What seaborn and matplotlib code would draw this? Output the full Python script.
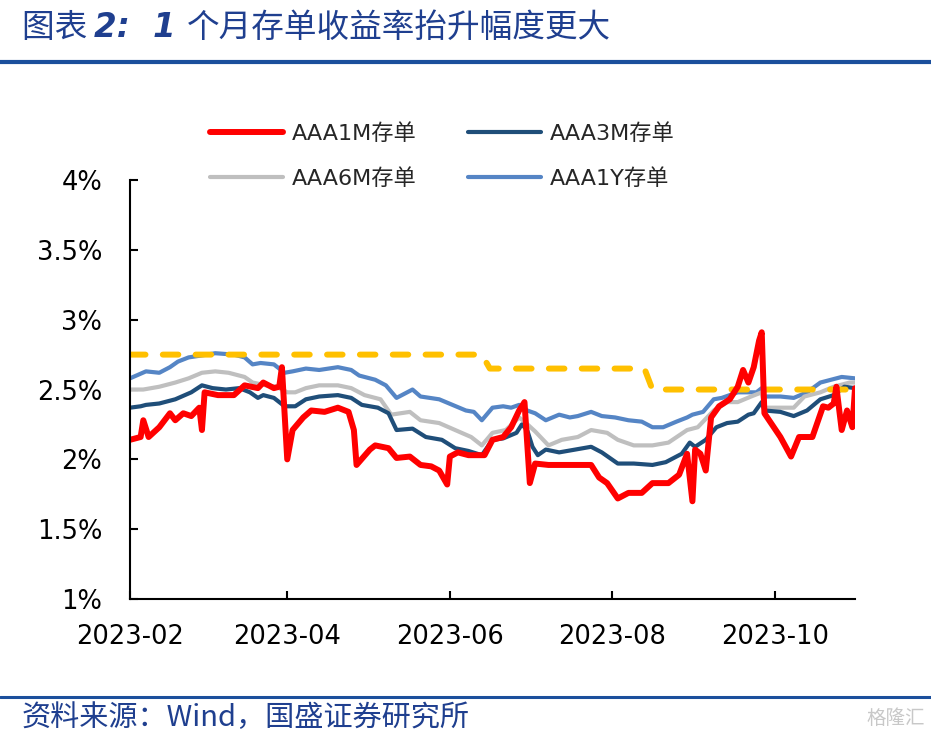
import pandas as pd
import seaborn as sns
import matplotlib.pyplot as plt
import matplotlib.dates as mdates
from matplotlib.ticker import FuncFormatter, MultipleLocator

# ---- data ----
m1_dates = ["2023-02-01", "2023-02-05", "2023-02-06", "2023-02-08", "2023-02-12", "2023-02-16",
            "2023-02-18", "2023-02-21", "2023-02-24", "2023-02-27", "2023-02-28", "2023-03-01",
            "2023-03-06", "2023-03-12", "2023-03-16", "2023-03-21", "2023-03-23", "2023-03-27",
            "2023-03-29", "2023-03-30", "2023-04-01", "2023-04-03", "2023-04-07", "2023-04-10",
            "2023-04-15", "2023-04-20", "2023-04-24", "2023-04-26", "2023-04-27", "2023-05-02",
            "2023-05-04", "2023-05-09", "2023-05-12", "2023-05-17", "2023-05-21", "2023-05-25",
            "2023-05-28", "2023-05-31", "2023-06-01", "2023-06-04", "2023-06-08", "2023-06-14",
            "2023-06-17", "2023-06-21", "2023-06-24", "2023-06-27", "2023-06-29", "2023-07-01",
            "2023-07-03", "2023-07-08", "2023-07-14", "2023-07-19", "2023-07-24", "2023-07-27",
            "2023-07-30", "2023-08-03", "2023-08-07", "2023-08-12", "2023-08-16", "2023-08-22",
            "2023-08-26", "2023-08-29", "2023-08-31", "2023-09-01", "2023-09-03", "2023-09-05",
            "2023-09-07", "2023-09-10", "2023-09-14", "2023-09-17", "2023-09-19", "2023-09-21",
            "2023-09-23", "2023-09-25", "2023-09-26", "2023-09-27", "2023-10-03", "2023-10-07",
            "2023-10-10", "2023-10-15", "2023-10-19", "2023-10-21", "2023-10-23", "2023-10-24",
            "2023-10-26", "2023-10-28", "2023-10-30", "2023-10-31"]
m1_vals = [2.14, 2.16, 2.28, 2.16, 2.23, 2.33,
           2.28, 2.33, 2.31, 2.37, 2.21, 2.48,
           2.46, 2.46, 2.53, 2.51, 2.55, 2.51,
           2.52, 2.66, 2.00, 2.21, 2.30, 2.35,
           2.34, 2.37, 2.34, 2.21, 1.96, 2.07,
           2.10, 2.08, 2.01, 2.02, 1.96, 1.95,
           1.92, 1.82, 2.02, 2.05, 2.03, 2.03,
           2.14, 2.16, 2.23, 2.35, 2.41, 1.83,
           1.97, 1.96, 1.96, 1.96, 1.96, 1.87,
           1.83, 1.72, 1.76, 1.76, 1.83, 1.83,
           1.89, 2.04, 1.70, 2.07, 2.04, 1.92,
           2.30, 2.38, 2.43, 2.52, 2.64, 2.55,
           2.66, 2.85, 2.91, 2.33, 2.16, 2.02,
           2.16, 2.16, 2.38, 2.37, 2.40, 2.52,
           2.21, 2.35, 2.23, 2.51]

m3_dates = ["2023-02-01", "2023-02-05", "2023-02-07", "2023-02-12", "2023-02-18", "2023-02-24",
            "2023-02-28", "2023-03-04", "2023-03-09", "2023-03-14", "2023-03-18", "2023-03-21",
            "2023-03-23", "2023-03-27", "2023-03-31", "2023-04-04", "2023-04-08", "2023-04-13",
            "2023-04-20", "2023-04-25", "2023-04-29", "2023-05-05", "2023-05-09", "2023-05-12",
            "2023-05-18", "2023-05-23", "2023-05-29", "2023-06-03", "2023-06-08", "2023-06-13",
            "2023-06-17", "2023-06-21", "2023-06-26", "2023-06-28", "2023-06-30", "2023-07-02",
            "2023-07-04", "2023-07-07", "2023-07-12", "2023-07-18", "2023-07-24", "2023-07-28",
            "2023-08-03", "2023-08-09", "2023-08-16", "2023-08-21", "2023-08-27", "2023-08-30",
            "2023-09-01", "2023-09-05", "2023-09-09", "2023-09-13", "2023-09-17", "2023-09-21",
            "2023-09-23", "2023-09-26", "2023-09-27", "2023-10-03", "2023-10-08", "2023-10-13",
            "2023-10-18", "2023-10-23", "2023-10-27", "2023-10-31"]
m3_vals = [2.37, 2.38, 2.39, 2.40, 2.43, 2.48,
           2.53, 2.51, 2.50, 2.51, 2.48, 2.44,
           2.46, 2.44, 2.38, 2.38, 2.43, 2.45,
           2.46, 2.44, 2.39, 2.37, 2.33, 2.21,
           2.22, 2.16, 2.14, 2.08, 2.06, 2.03,
           2.14, 2.15, 2.19, 2.25, 2.21, 2.09,
           2.03, 2.07, 2.05, 2.07, 2.09, 2.05,
           1.97, 1.97, 1.96, 1.98, 2.04, 2.12,
           2.09, 2.14, 2.23, 2.26, 2.27, 2.32,
           2.33, 2.41, 2.35, 2.34, 2.31, 2.35,
           2.43, 2.46, 2.52, 2.51]

m6_dates = ["2023-02-01", "2023-02-06", "2023-02-12", "2023-02-18", "2023-02-23", "2023-02-28",
            "2023-03-05", "2023-03-10", "2023-03-16", "2023-03-19", "2023-03-24", "2023-03-28",
            "2023-04-01", "2023-04-04", "2023-04-08", "2023-04-13", "2023-04-20", "2023-04-25",
            "2023-04-30", "2023-05-06", "2023-05-10", "2023-05-17", "2023-05-21", "2023-05-28",
            "2023-06-03", "2023-06-09", "2023-06-13", "2023-06-17", "2023-06-22", "2023-06-27",
            "2023-06-29", "2023-07-03", "2023-07-08", "2023-07-13", "2023-07-19", "2023-07-24",
            "2023-07-30", "2023-08-03", "2023-08-09", "2023-08-16", "2023-08-22", "2023-08-29",
            "2023-09-02", "2023-09-08", "2023-09-13", "2023-09-17", "2023-09-22", "2023-09-26",
            "2023-09-27", "2023-10-03", "2023-10-08", "2023-10-12", "2023-10-18", "2023-10-23",
            "2023-10-29", "2023-10-31"]
m6_vals = [2.50, 2.50, 2.52, 2.55, 2.58, 2.62,
           2.63, 2.62, 2.59, 2.55, 2.53, 2.52,
           2.48, 2.48, 2.51, 2.53, 2.53, 2.51,
           2.46, 2.43, 2.32, 2.34, 2.28, 2.26,
           2.21, 2.16, 2.10, 2.19, 2.21, 2.30,
           2.27, 2.20, 2.10, 2.14, 2.16, 2.21,
           2.19, 2.14, 2.10, 2.10, 2.12, 2.21,
           2.23, 2.35, 2.41, 2.41, 2.45, 2.48,
           2.37, 2.37, 2.37, 2.45, 2.48, 2.52,
           2.55, 2.55]

y1_dates = ["2023-02-01", "2023-02-07", "2023-02-12", "2023-02-16", "2023-02-19", "2023-02-23",
            "2023-03-02", "2023-03-05", "2023-03-12", "2023-03-16", "2023-03-19", "2023-03-22",
            "2023-03-27", "2023-03-31", "2023-04-03", "2023-04-08", "2023-04-13", "2023-04-20",
            "2023-04-25", "2023-04-28", "2023-05-04", "2023-05-08", "2023-05-12", "2023-05-18",
            "2023-05-21", "2023-05-28", "2023-06-02", "2023-06-07", "2023-06-10", "2023-06-13",
            "2023-06-17", "2023-06-21", "2023-06-24", "2023-06-27", "2023-06-30", "2023-07-03",
            "2023-07-07", "2023-07-12", "2023-07-16", "2023-07-19", "2023-07-24", "2023-07-28",
            "2023-08-02", "2023-08-07", "2023-08-12", "2023-08-16", "2023-08-20", "2023-08-25",
            "2023-08-29", "2023-08-31", "2023-09-04", "2023-09-08", "2023-09-11", "2023-09-17",
            "2023-09-21", "2023-09-24", "2023-09-26", "2023-09-27", "2023-10-03", "2023-10-08",
            "2023-10-13", "2023-10-18", "2023-10-22", "2023-10-26", "2023-10-31"]
y1_vals = [2.58, 2.63, 2.62, 2.66, 2.70, 2.73,
           2.75, 2.76, 2.75, 2.73, 2.68, 2.69,
           2.68, 2.62, 2.63, 2.65, 2.64, 2.66,
           2.64, 2.60, 2.57, 2.53, 2.44, 2.50,
           2.45, 2.43, 2.39, 2.35, 2.34, 2.28,
           2.37, 2.38, 2.37, 2.39, 2.35, 2.33,
           2.28, 2.32, 2.30, 2.31, 2.34, 2.31,
           2.30, 2.28, 2.27, 2.23, 2.23, 2.27,
           2.30, 2.32, 2.34, 2.43, 2.44, 2.48,
           2.48, 2.48, 2.51, 2.45, 2.45, 2.44,
           2.48, 2.55, 2.57, 2.59, 2.58]

# policy rate (yellow dashed, no legend entry)
mlf_dates = ["2023-02-01", "2023-06-13", "2023-06-16", "2023-08-13", "2023-08-16", "2023-10-31"]
mlf_vals = [2.75, 2.75, 2.65, 2.65, 2.50, 2.50]

labels = ["AAA1M存单", "AAA3M存单", "AAA6M存单", "AAA1Y存单"]
colors = ["#FF0000", "#1F4E79", "#BFBFBF", "#5585C5"]
tick_dates = ["2023-02-01", "2023-04-01", "2023-06-01", "2023-08-01", "2023-10-01"]

sns.set_theme(style="ticks")
plt.rcParams["font.family"] = ["DejaVu Sans", "Noto Sans CJK SC"]

fig = plt.figure(figsize=(9.31, 7.39), dpi=100)
ax = fig.add_axes([0.1396, 0.1894, 0.7788, 0.567])

# draw order: 1Y, 6M, 3M, policy line, 1M on top
series = [(y1_dates, y1_vals, 3), (m6_dates, m6_vals, 2), (m3_dates, m3_vals, 1)]
for d, v, i in series:
    sns.lineplot(x=pd.to_datetime(d), y=v, ax=ax, color=colors[i], lw=3.0,
                 label=labels[i], solid_capstyle="round", solid_joinstyle="round")

sns.lineplot(x=pd.to_datetime(mlf_dates), y=mlf_vals, ax=ax, color="#FFC000", lw=4.3,
             dashes=False, linestyle=(0, (2.6, 2.9)), dash_capstyle="round", legend=False)

sns.lineplot(x=pd.to_datetime(m1_dates), y=m1_vals, ax=ax, color=colors[0], lw=4.3,
             label=labels[0], solid_joinstyle="round")

ax.set_xlim(pd.Timestamp("2023-02-01"), pd.Timestamp("2023-10-31"))
ax.set_ylim(1, 4)
ax.yaxis.set_major_locator(MultipleLocator(0.5))
ax.yaxis.set_major_formatter(FuncFormatter(lambda v, p: f"{v:g}%"))
ax.set_xticks(pd.to_datetime(tick_dates))
ax.xaxis.set_major_formatter(mdates.DateFormatter("%Y-%m"))
ax.set_xlabel("")
ax.set_ylabel("")

sns.despine(ax=ax)
for s in ["left", "bottom"]:
    ax.spines[s].set_linewidth(1.5)
    ax.spines[s].set_color("black")
ax.tick_params(axis="both", direction="in", length=6, width=1.5, colors="black",
               labelsize=18.5)
ax.tick_params(axis="y", pad=20)
ax.tick_params(axis="x", pad=18)
ax.set_facecolor("white")

# legend rows: 1M, 3M / 6M, 1Y  (ncol fills column by column)
handles, labs = ax.get_legend_handles_labels()
lookup = dict(zip(labs, handles))
order = [labels[0], labels[2], labels[1], labels[3]]
ax.legend([lookup[k] for k in order], order, ncol=2, loc="upper left",
          bbox_to_anchor=(210 / 931, 1 - 123 / 739), bbox_transform=fig.transFigure,
          frameon=False, fontsize=16, handlelength=3.3, handletextpad=0.4,
          columnspacing=2.3, labelspacing=1.1, borderpad=0, borderaxespad=0)

# title, rules, source
blue = "#1B4F9C"
text_blue = "#1F3F8F"
t1 = fig.text(22 / 931, 1 - 28 / 739, "图表 ", fontsize=23.5, color=text_blue, va="center",
              style="italic", family=["Noto Sans CJK SC"])
t2 = ax.annotate("2:  ", xy=(1, 0), xycoords=t1, va="bottom", fontsize=23.5, color=text_blue,
                 style="italic", weight="bold", annotation_clip=False)
t3 = ax.annotate("1 ", xy=(1, 0), xycoords=t2, va="bottom", fontsize=23.5, color=text_blue,
                 style="italic", weight="bold", annotation_clip=False)
ax.annotate("个月存单收益率抬升幅度更大", xy=(1, 0), xycoords=t3, va="bottom", fontsize=23.5,
            color=text_blue, family=["Noto Sans CJK SC"], annotation_clip=False)

fig.add_artist(plt.Line2D([0, 1], [1 - 62 / 739] * 2, color=blue, lw=3, transform=fig.transFigure))
fig.add_artist(plt.Line2D([0, 1], [1 - 697 / 739] * 2, color=blue, lw=2.2, transform=fig.transFigure))

fig.text(22 / 931, 1 - 718 / 739, "资料来源：Wind，国盛证券研究所", fontsize=21, color=text_blue,
         va="center", style="italic", family=["Noto Sans CJK SC", "DejaVu Sans"])
fig.text(925 / 931, 1 - 718 / 739, "格隆汇", fontsize=14, color="#C8C8C8", ha="right",
         va="center", family=["Noto Sans CJK SC"])

fig.savefig("out.png", dpi=100, facecolor="white")
